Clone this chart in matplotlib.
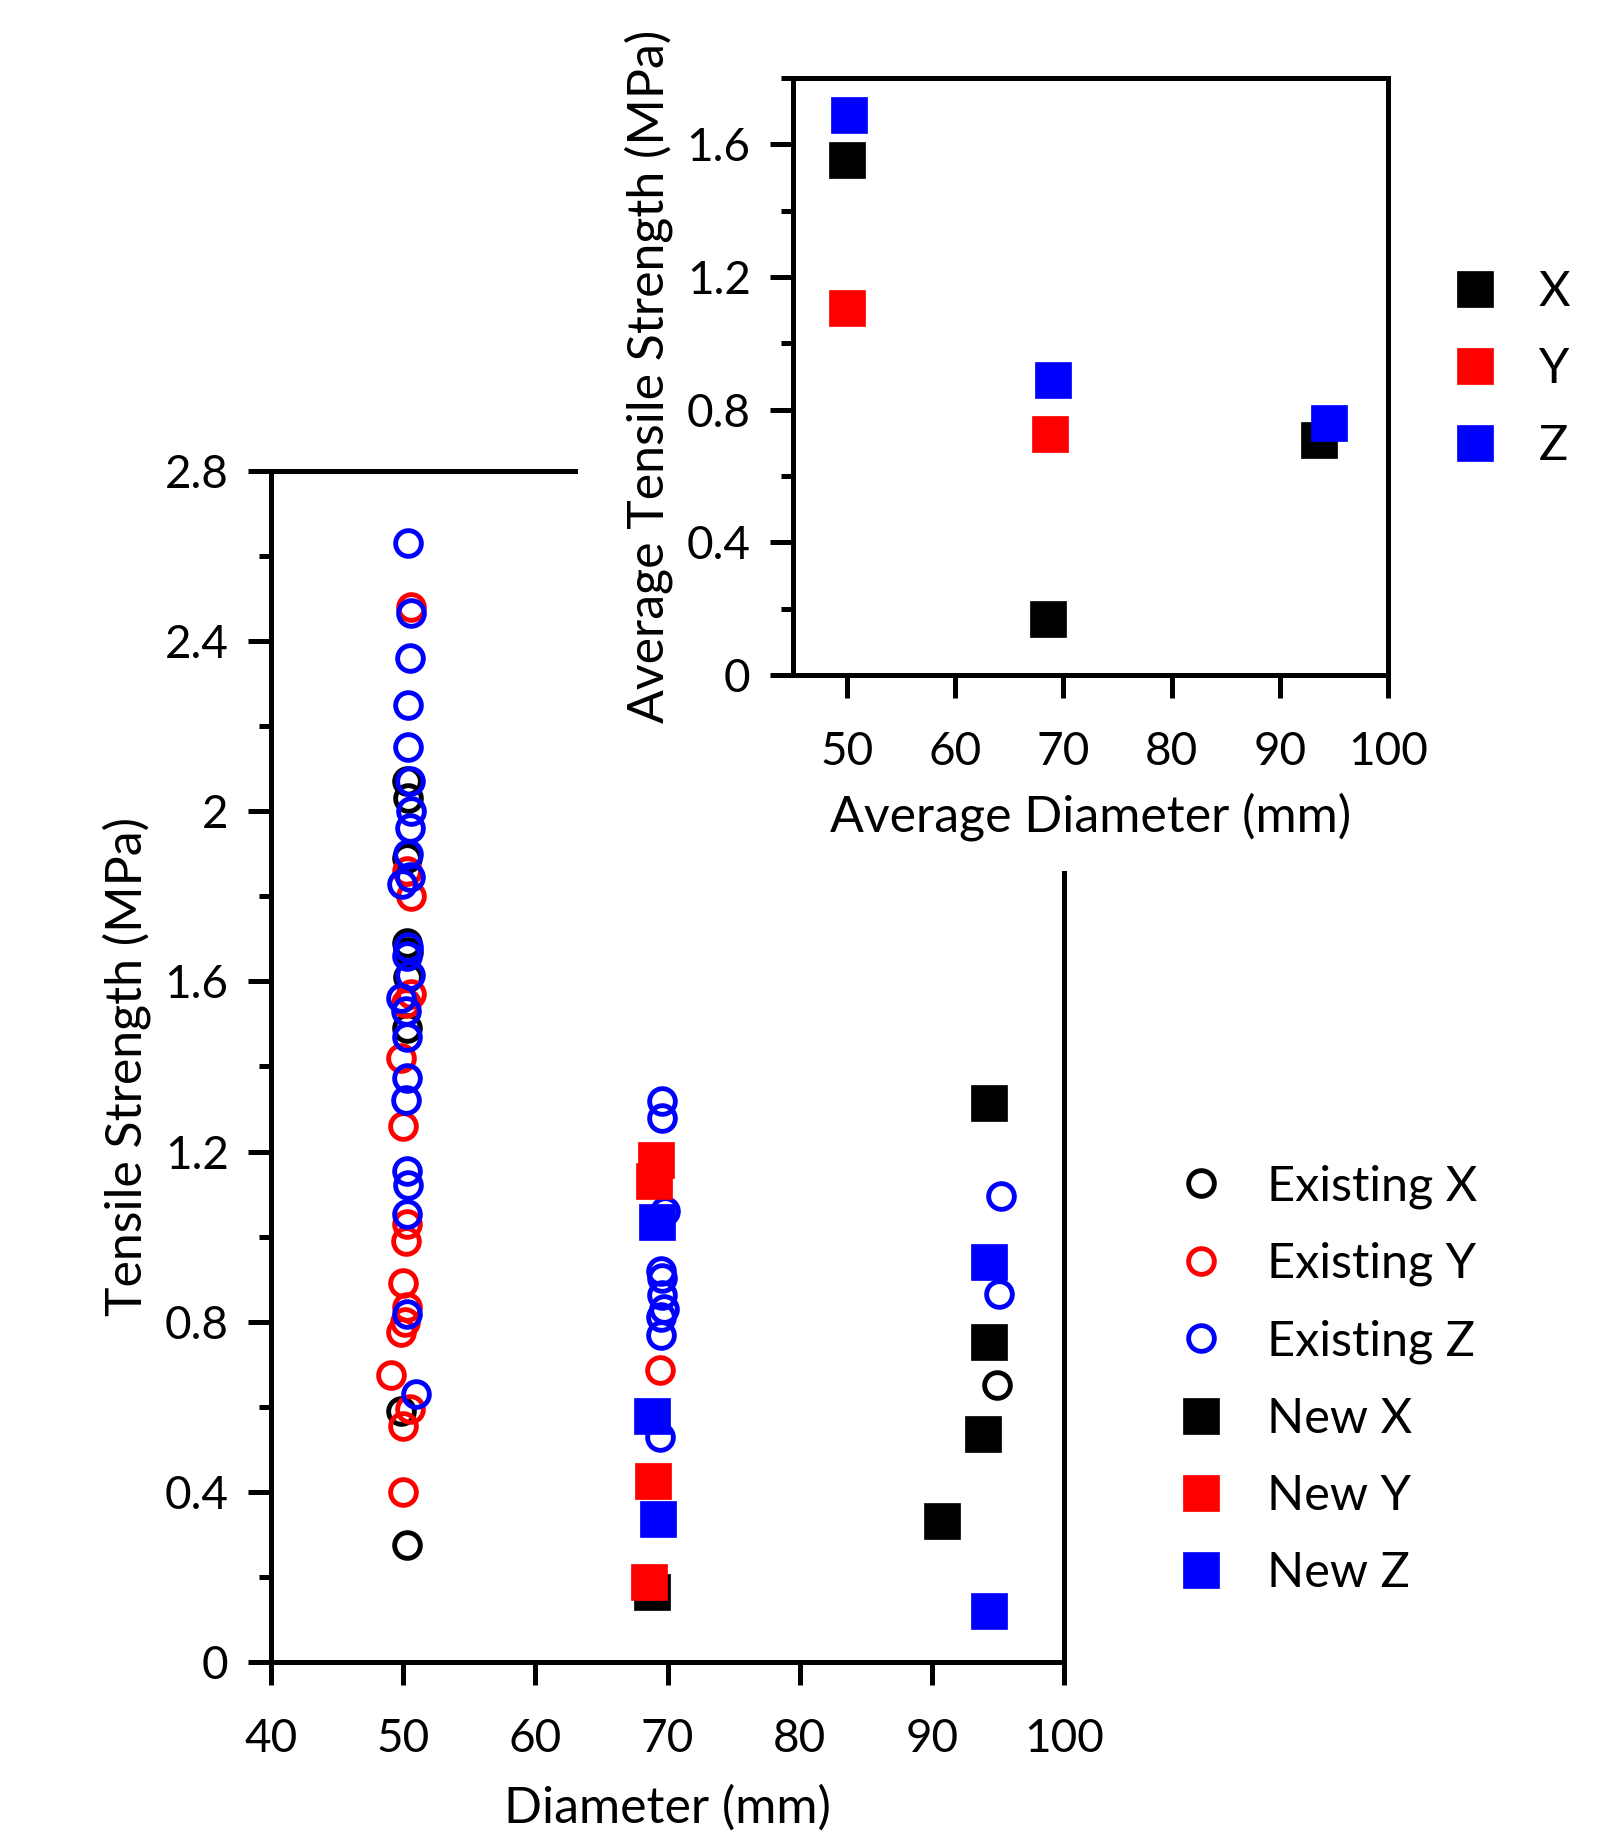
import matplotlib.pyplot as plt
from matplotlib.patches import Rectangle
from matplotlib.ticker import MultipleLocator, FuncFormatter

plt.rcParams['font.family'] = ['Lato', 'DejaVu Sans']
plt.rcParams['font.size'] = 33

# Existing samples (open circles)
exist_x_d = [50.3, 50.4, 50.3, 50.3, 50.4, 50.4, 50.3, 49.8, 50.3, 94.9]
exist_x_s = [2.07, 2.03, 1.89, 1.69, 1.67, 1.61, 1.49, 0.59, 0.275, 0.65]

exist_y_d = [50.6, 50.3, 50.6, 50.6, 50.2, 49.8, 50.0, 50.3, 50.2, 50.0,
             50.3, 50.1, 49.8, 49.1, 50.5, 50.0, 50.0, 69.4]
exist_y_s = [2.48, 1.86, 1.80, 1.57, 1.55, 1.42, 1.26, 1.03, 0.99, 0.89,
             0.835, 0.80, 0.776, 0.675, 0.595, 0.555, 0.40, 0.686]

exist_z_d = [50.4, 50.6, 50.5, 50.4, 50.4, 50.5, 50.6, 50.5, 50.4, 50.5,
             49.9, 50.4, 50.3, 50.5, 49.8, 50.2, 50.3, 50.3, 50.2, 50.3,
             50.4, 50.3, 50.3, 51.0,
             69.6, 69.6, 69.8, 69.5, 69.6, 69.6, 69.7, 69.5, 69.5, 69.4,
             95.2, 95.1]
exist_z_s = [2.63, 2.465, 2.36, 2.25, 2.15, 2.07, 2.00, 1.96, 1.90, 1.845,
             1.83, 1.68, 1.66, 1.615, 1.56, 1.53, 1.47, 1.373, 1.321, 1.154,
             1.121, 1.053, 0.818, 0.63,
             1.319, 1.279, 1.06, 0.919, 0.903, 0.863, 0.83, 0.81, 0.769, 0.53,
             1.096, 0.866]

# New samples (filled squares)
new_x_d = [68.8, 94.3, 94.3, 93.9, 90.8]
new_x_s = [0.165, 1.314, 0.752, 0.536, 0.331]

new_y_d = [69.1, 69.0, 68.9, 68.6]
new_y_s = [1.18, 1.13, 0.425, 0.188]

new_z_d = [69.2, 68.8, 69.3, 94.3, 94.3]
new_z_s = [1.035, 0.578, 0.336, 0.94, 0.121]

# Averages for the inset
avg_x_d = [50.0, 68.6, 93.6]
avg_x_s = [1.554, 0.168, 0.708]
avg_y_d = [50.0, 68.8]
avg_y_s = [1.106, 0.726]
avg_z_d = [50.2, 69.0, 94.5]
avg_z_s = [1.688, 0.89, 0.76]

fig = plt.figure(figsize=(16.21, 18.34), dpi=100)

spine_w = 3.6
label_fs = 36
legend_fs = 35
circ = dict(linestyle='none', marker='o', markersize=18.5, markeredgewidth=3.5,
            markerfacecolor='none')
sq = dict(linestyle='none', marker='s', markersize=26.5, markeredgewidth=0.5)

# Main plot
ax = fig.add_axes([0.1672, 0.0938, 0.4892, 0.6494])
ax.set_zorder(0)
ax.plot(exist_x_d, exist_x_s, color='black', label='Existing X', **circ)
ax.plot(exist_y_d, exist_y_s, color='red', label='Existing Y', **circ)
ax.plot(exist_z_d, exist_z_s, color='blue', label='Existing Z', **circ)
ax.plot(new_x_d, new_x_s, color='black', label='New X', **sq)
ax.plot(new_y_d, new_y_s, color='red', label='New Y', **sq)
ax.plot(new_z_d, new_z_s, color='blue', label='New Z', **sq)

ax.set_xlim(40, 100)
ax.set_ylim(0, 2.8)
ax.xaxis.set_major_locator(MultipleLocator(10))
ax.yaxis.set_major_locator(MultipleLocator(0.4))
ax.yaxis.set_minor_locator(MultipleLocator(0.2))
ax.yaxis.set_major_formatter(FuncFormatter(lambda v, p: f"{v:g}"))
ax.tick_params(axis='both', which='major', direction='out', length=16.5, width=spine_w)
ax.tick_params(axis='y', which='minor', direction='out', length=9, width=spine_w)
ax.tick_params(axis='x', pad=24)
ax.tick_params(axis='y', pad=14)
for s in ax.spines.values():
    s.set_linewidth(spine_w)
ax.set_xlabel("Diameter (mm)", fontsize=label_fs, labelpad=18)
ax.set_ylabel("Tensile Strength (MPa)", fontsize=label_fs, labelpad=10)

fig.legend(handles=ax.get_lines(), loc='center left', bbox_to_anchor=(0.7261, 0.2478),
           frameon=False, handlelength=1.0, handletextpad=0.85, labelspacing=0.68,
           borderpad=0, borderaxespad=0, fontsize=legend_fs)

# white block hiding the main box behind the inset
fig.add_artist(Rectangle((0.3566, 0.525), 0.65, 0.48, transform=fig.transFigure,
                         facecolor='white', edgecolor='none', zorder=1))

# Inset with averages
ins = fig.add_axes([0.4892, 0.632, 0.3671, 0.3255])
ins.set_zorder(2)
ins.plot(avg_x_d, avg_x_s, color='black', label='X', **sq)
ins.plot(avg_y_d, avg_y_s, color='red', label='Y', **sq)
ins.plot(avg_z_d, avg_z_s, color='blue', label='Z', **sq)
ins.set_xlim(45, 100)
ins.set_ylim(0, 1.8)
ins.xaxis.set_major_locator(MultipleLocator(10))
ins.yaxis.set_major_locator(MultipleLocator(0.4))
ins.yaxis.set_minor_locator(MultipleLocator(0.2))
ins.yaxis.set_major_formatter(FuncFormatter(lambda v, p: f"{v:g}"))
ins.tick_params(axis='both', which='major', direction='out', length=16.5, width=spine_w)
ins.tick_params(axis='y', which='minor', direction='out', length=9, width=spine_w)
ins.tick_params(axis='x', pad=24)
ins.tick_params(axis='y', pad=14)
for s in ins.spines.values():
    s.set_linewidth(spine_w)
ins.set_xlabel("Average Diameter (mm)", fontsize=label_fs, labelpad=14)
ins.set_ylabel("Average Tensile Strength (MPa)", fontsize=label_fs, labelpad=10)

fig.legend(handles=ins.get_lines(), loc='center left', bbox_to_anchor=(0.8951, 0.7988),
           frameon=False, handlelength=1.0, handletextpad=0.8, labelspacing=0.68,
           borderpad=0, borderaxespad=0, fontsize=legend_fs)

plt.savefig("out.png", dpi=100)
